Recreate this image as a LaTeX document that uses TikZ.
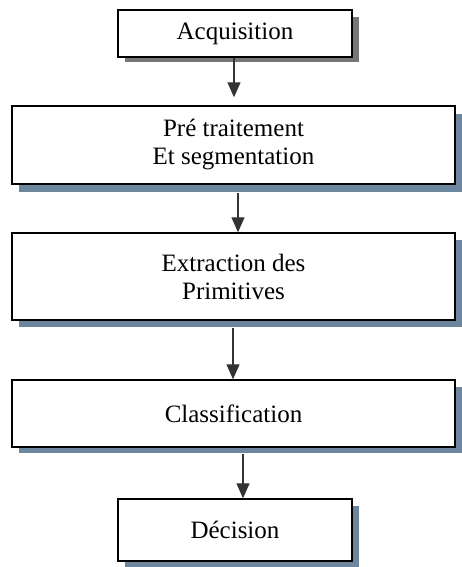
\documentclass[tikz,border=0pt]{standalone}
\usepackage{fontspec}
\setmainfont{Liberation Serif}
\usepackage{tikz}
\usetikzlibrary{arrows.meta}
\usetikzlibrary{positioning}

\definecolor{shadowblue}{RGB}{108,134,158}
\definecolor{shadowgray}{RGB}{118,118,118}

\begin{document}
\begin{tikzpicture}[x=1pt, y=-1pt,
    stepbox/.style={rectangle, draw=black, fill=white, line width=1.4pt, inner sep=0pt, align=center, font=\fontsize{25}{28}\selectfont},
    smallbox/.style={stepbox, minimum width=234pt},
    bigbox/.style={stepbox, minimum width=443pt},
    flow/.style={-{Triangle[width=13pt,length=15pt]}, line width=1.3pt, draw=black!80}]
        \useasboundingbox (0,0) rectangle (462,567);

        % shadows first, boxes on top
        \fill[shadowgray] (125,17) rectangle (359,62);
        \fill[shadowblue] (19,114) rectangle (462,192);
        \fill[shadowblue] (19,240) rectangle (462,327);
        \fill[shadowblue] (19,387) rectangle (462,453);
        \fill[shadowblue] (125,506) rectangle (359,567);

        \node[smallbox, minimum height=47pt] (acq) at (235,33.5) {Acquisition};
        \node[bigbox, minimum height=78pt] (pre) at (233.5,145) {Pré traitement\\Et segmentation};
        \node[bigbox, minimum height=87pt] (ext) at (233.5,276.5) {Extraction des\\Primitives};
        \node[bigbox, minimum height=67pt] (cls) at (233.5,413.5) {Classification};
        \node[smallbox, minimum height=62pt] (dec) at (235,530) {Décision};

        \draw[flow, shorten >=8pt] ([xshift=-1pt]acq.south) -- ([xshift=-1pt]acq.south |- pre.north);
        \draw[flow, shorten <=8pt] ([xshift=4.5pt]pre.south) -- ([xshift=4.5pt]pre.south |- ext.north);
        \draw[flow, shorten <=7pt] ([xshift=-0.5pt]ext.south) -- ([xshift=-0.5pt]cls.north);
        \draw[flow, shorten <=6pt] ([xshift=8pt]dec.south |- cls.south) -- ([xshift=8pt]dec.north);
    \end{tikzpicture}
\end{document}
